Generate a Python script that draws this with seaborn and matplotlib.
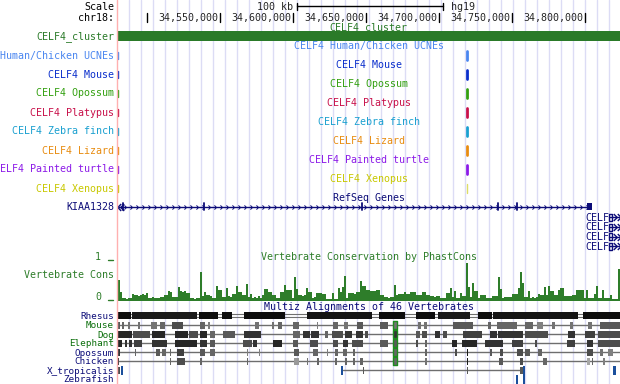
import numpy as np
import pandas as pd
import matplotlib
matplotlib.use('Agg')
import matplotlib.pyplot as plt
import matplotlib.transforms as mtransforms
from matplotlib.path import Path
import seaborn as sns

# ---------------- data (chr18, hg19, positions in kb) ----------------
view_kb = (34479.3, 34823.9)
ruler_ticks_kb = [34500, 34550, 34600, 34650, 34700, 34750, 34800]
scale_bar_kb = (34602.7, 34702.7)

track_names = ['CELF4 Human/Chicken UCNEs', 'CELF4 Mouse', 'CELF4 Opossum',
               'CELF4 Platypus', 'CELF4 Zebra finch', 'CELF4 Lizard',
               'CELF4 Painted turtle', 'CELF4 Xenopus']
track_colors = ['#4a86f0', '#0a2ecc', '#33a010', '#c8104a',
                '#1aa0d0', '#e88c10', '#8c1ae8', '#c8c800']
track_left_kb = 34480.0
track_hit_kb = (34718.7, 34720.1)

kiaa_span_kb = (34479.3, 34803.3)
kiaa_exons_kb = [34483.4, 34538.9, 34647.1, 34740.3, 34753.3]
kiaa_last_exon_kb = (34801.3, 34804.7)
celf4_start_kb = 34816.3
celf4_rows = 4

# phastCons scores, one per 1.37 kb bin starting at 34480.0 kb
cons_start_kb = 34480.0
cons_step_kb = 1.37
cons_scores = [
    0.51, 0.22, 0.07, 0.07, 0.05, 0.07, 0.07, 0.17, 0.15, 0.15,
    0.12, 0.15, 0.17, 0.15, 0.20, 0.07, 0.07, 0.10, 0.07, 0.07,
    0.07, 0.10, 0.10, 0.15, 0.15, 0.24, 0.22, 0.10, 0.10, 0.10,
    0.34, 0.24, 0.22, 0.24, 0.20, 0.20, 0.07, 0.07, 0.05, 0.07,
    0.07, 0.71, 0.12, 0.22, 0.15, 0.15, 0.12, 0.07, 0.07, 0.37,
    0.27, 0.27, 0.10, 0.10, 0.32, 0.12, 0.10, 0.17, 0.17, 0.37,
    0.22, 0.22, 0.15, 0.15, 0.41, 0.10, 0.17, 0.07, 0.10, 0.07,
    0.12, 0.07, 0.15, 0.29, 0.29, 0.22, 0.22, 0.15, 0.15, 0.07,
    0.07, 0.22, 0.22, 0.39, 0.27, 0.27, 0.27, 0.07, 0.59, 0.29,
    0.15, 0.15, 0.12, 0.15, 0.32, 0.22, 0.22, 0.07, 0.10, 0.20,
    0.20, 0.20, 0.17, 0.17, 0.05, 0.05, 0.05, 0.20, 0.05, 0.05,
    0.32, 0.22, 0.34, 0.61, 0.07, 0.20, 0.20, 0.20, 0.17, 0.22,
    0.22, 0.49, 0.37, 0.37, 0.27, 0.27, 0.24, 0.24, 0.24, 0.27,
    0.27, 0.15, 0.15, 0.10, 0.10, 0.07, 0.10, 0.10, 0.39, 0.15,
    0.17, 0.17, 0.17, 0.22, 0.17, 0.17, 0.22, 0.22, 0.22, 0.15,
    0.15, 0.15, 0.22, 0.22, 0.15, 0.15, 0.12, 0.12, 0.10, 0.12,
    0.12, 0.07, 0.07, 0.07, 0.20, 0.20, 0.32, 0.10, 0.24, 0.07,
    0.07, 0.20, 0.12, 0.12, 0.93, 0.34, 0.10, 0.44, 0.24, 0.24,
    0.07, 0.15, 0.15, 0.15, 0.07, 0.07, 0.07, 0.12, 0.12, 0.12,
    0.59, 0.29, 0.07, 0.10, 0.10, 0.10, 0.10, 0.17, 0.17, 0.17,
    0.32, 0.71, 0.44, 0.10, 0.10, 0.24, 0.07, 0.10, 0.07, 0.10,
    0.17, 0.15, 0.15, 0.34, 0.15, 0.37, 0.24, 0.24, 0.15, 0.15,
    0.27, 0.32, 0.32, 0.12, 0.12, 0.12, 0.12, 0.15, 0.15, 0.27,
    0.27, 0.27, 0.27, 0.07, 0.27, 0.07, 0.07, 0.07, 0.17, 0.37,
    0.07, 0.07, 0.27, 0.07, 0.07, 0.07, 0.15, 0.05, 0.05, 0.05,
    0.78,
]

# multiz blocks: (start kb, end kb, grey level)
rhesus_blocks = [(34479.8, 34488.9, 0.05), (34489.6, 34534.1, 0.1),
                 (34535.5, 34548.5, 0.05), (34551.2, 34558.1, 0.05),
                 (34566.3, 34594.4, 0.05), (34609.5, 34654.0, 0.08),
                 (34658.8, 34676.6, 0.05), (34684.1, 34697.1, 0.05),
                 (34699.2, 34721.1, 0.1), (34726.6, 34736.2, 0.05),
                 (34736.9, 34795.1, 0.08), (34798.5, 34823.9, 0.05)]
mouse_blocks = [(34480.0, 34481.4, 0.35), (34482.7, 34484.1, 0.4),
                (34486.9, 34488.2, 0.45), (34493.7, 34495.1, 0.45),
                (34502.6, 34506.7, 0.45), (34508.8, 34512.2, 0.4),
                (34517.0, 34524.5, 0.3), (34536.2, 34539.6, 0.4),
                (34541.6, 34543.0, 0.5), (34573.8, 34576.6, 0.45),
                (34585.5, 34586.9, 0.45), (34589.6, 34592.3, 0.4),
                (34599.9, 34604.0, 0.4), (34616.3, 34617.0, 0.5),
                (34627.3, 34630.7, 0.4), (34634.8, 34637.6, 0.45),
                (34643.7, 34647.8, 0.35), (34659.5, 34665.0, 0.35),
                (34668.4, 34671.1, 0.45), (34685.5, 34687.6, 0.45),
                (34689.6, 34691.7, 0.45), (34709.5, 34723.2, 0.35),
                (34733.5, 34735.5, 0.4), (34739.6, 34753.3, 0.4),
                (34758.8, 34764.3, 0.4), (34767.0, 34771.1, 0.5),
                (34777.3, 34779.3, 0.45), (34789.6, 34791.7, 0.45),
                (34802.0, 34804.7, 0.45), (34810.2, 34823.9, 0.35)]
dog_blocks = [(34480.0, 34489.6, 0.15), (34490.3, 34501.9, 0.3),
              (34503.3, 34512.2, 0.15), (34519.0, 34528.0, 0.15),
              (34528.6, 34534.8, 0.3), (34536.2, 34541.0, 0.15),
              (34543.0, 34546.4, 0.4), (34551.9, 34560.1, 0.35),
              (34566.3, 34578.0, 0.2), (34599.9, 34604.7, 0.4),
              (34606.7, 34611.5, 0.2), (34612.2, 34617.7, 0.2),
              (34621.8, 34623.9, 0.4), (34626.6, 34634.1, 0.3),
              (34635.5, 34640.3, 0.2), (34643.0, 34647.8, 0.2),
              (34649.2, 34651.3, 0.3), (34668.4, 34671.1, 0.2),
              (34684.1, 34686.9, 0.35), (34688.2, 34691.7, 0.3),
              (34697.1, 34700.6, 0.2), (34702.6, 34705.4, 0.3),
              (34716.3, 34729.3, 0.25), (34734.8, 34739.6, 0.2),
              (34740.3, 34757.4, 0.2), (34758.8, 34774.6, 0.3),
              (34788.3, 34793.0, 0.2), (34799.9, 34806.7, 0.25),
              (34808.8, 34823.9, 0.3)]
elephant_blocks = [(34480.0, 34482.7, 0.15), (34484.8, 34486.2, 0.2),
                   (34487.5, 34489.6, 0.2), (34491.0, 34496.4, 0.25),
                   (34503.3, 34513.6, 0.2), (34519.0, 34534.1, 0.15),
                   (34536.2, 34541.0, 0.2), (34543.0, 34546.4, 0.35),
                   (34565.6, 34571.8, 0.3), (34572.5, 34575.2, 0.2),
                   (34586.2, 34592.3, 0.15), (34599.9, 34603.3, 0.35),
                   (34611.5, 34617.0, 0.3), (34627.3, 34630.7, 0.3),
                   (34634.1, 34637.6, 0.2), (34640.3, 34647.8, 0.3),
                   (34659.5, 34665.0, 0.35), (34668.4, 34671.1, 0.35),
                   (34684.1, 34685.5, 0.3), (34690.3, 34691.7, 0.4),
                   (34708.8, 34712.2, 0.15), (34715.6, 34725.9, 0.15),
                   (34731.4, 34743.7, 0.2), (34749.9, 34757.4, 0.25),
                   (34765.6, 34767.0, 0.3), (34787.6, 34793.0, 0.25),
                   (34801.3, 34805.4, 0.2), (34808.8, 34823.9, 0.3)]
opossum_blocks = [(34480.0, 34481.4, 0.2), (34491.6, 34492.3, 0.4),
                  (34506.0, 34508.8, 0.35), (34510.1, 34512.9, 0.4),
                  (34515.6, 34516.3, 0.4), (34520.4, 34525.2, 0.25),
                  (34536.2, 34539.6, 0.35), (34543.0, 34546.4, 0.4),
                  (34568.4, 34569.1, 0.5), (34576.6, 34577.3, 0.5),
                  (34600.6, 34604.0, 0.35), (34613.6, 34617.0, 0.4),
                  (34623.2, 34623.9, 0.5), (34628.6, 34630.7, 0.4),
                  (34634.1, 34636.9, 0.4), (34641.0, 34642.3, 0.4),
                  (34668.4, 34671.1, 0.4), (34690.3, 34691.7, 0.4),
                  (34710.8, 34712.2, 0.3), (34719.1, 34719.8, 0.1),
                  (34734.8, 34736.2, 0.35), (34741.7, 34743.7, 0.3),
                  (34753.3, 34757.4, 0.3), (34758.8, 34762.2, 0.35),
                  (34767.7, 34770.4, 0.4), (34801.3, 34805.4, 0.3),
                  (34810.2, 34812.2, 0.45), (34815.7, 34819.1, 0.5)]
chicken_blocks = [(34480.0, 34480.7, 0.2), (34515.6, 34516.3, 0.4),
                  (34520.4, 34525.9, 0.3), (34536.2, 34537.5, 0.4),
                  (34568.4, 34569.1, 0.4), (34600.6, 34604.0, 0.6),
                  (34609.5, 34610.2, 0.45), (34616.3, 34617.7, 0.4),
                  (34628.6, 34630.0, 0.4), (34635.5, 34636.9, 0.4),
                  (34641.0, 34642.3, 0.4), (34645.8, 34647.8, 0.4),
                  (34668.4, 34671.1, 0.4), (34690.3, 34691.7, 0.45),
                  (34719.1, 34719.8, 0.1), (34741.0, 34743.7, 0.35),
                  (34755.4, 34757.4, 0.3), (34771.1, 34773.9, 0.4),
                  (34801.3, 34803.3, 0.65), (34804.7, 34805.4, 0.4),
                  (34812.2, 34813.6, 0.5)]
xtrop_blocks = [(34480.0, 34481.4, 0.3), (34647.5, 34648.2, 0.35),
                (34719.1, 34719.8, 0.35), (34755.4, 34757.4, 0.35)]
xtrop_blue_kb = [(34482.1, 34483.4), (34632.8, 34634.1),
                 (34757.4, 34758.8), (34819.1, 34821.1)]
xtrop_line_kb = (34634.1, 34756.7)
zebrafish_blue_kb = [(34752.6, 34754.0), (34757.4, 34758.8)]
multiz_green_kb = (34668.4, 34671.1)

# ---------------- style ----------------
sns.set_style('white')
plt.rcParams['font.family'] = ['DejaVu Sans Mono', 'DejaVu Sans']
plt.rcParams['patch.force_edgecolor'] = False
FS = 7.2
NAVY = '#0c0c78'
CL_GREEN = '#2a7a28'
CONS_GREEN = '#2e7d2a'
MZ_GREEN = '#0a6e0a'
BLUE = '#1b4f9c'
GUIDE = '#dcdcf5'

W, H = 620, 384
X0 = 117
fig = plt.figure(figsize=(W / 100, H / 100), dpi=100)
ax = fig.add_axes([X0 / W, 0, (W - X0) / W, 1])
ax.set_xlim(*view_kb)
ax.set_ylim(H, 0)
ax.axis('off')
kb_px = (view_kb[1] - view_kb[0]) / (W - X0)
mid_kb = sum(view_kb) / 2
lab = mtransforms.blended_transform_factory(fig.transFigure, ax.transData)
LX = 114 / W


def left_label(y, text, color, fs=FS):
    ax.text(LX, y + 3.5, text, transform=lab, ha='right', va='baseline',
            fontsize=fs, color=color, clip_on=False)


def center_label(y, text, color):
    ax.text(mid_kb, y + 3.5, text, ha='center', va='baseline',
            fontsize=FS, color=color)


def solid_bars(spans, y0, h, colors):
    ax.broken_barh(spans, (y0, h), facecolors=colors, edgecolors='none',
                   linewidth=0, zorder=3)


# guide lines and left border
for k in range(1, 42):
    ax.axvline(view_kb[0] + (0.3 + 12 * k) * kb_px, color=GUIDE, lw=1, zorder=0)
fig.add_artist(plt.Line2D([116.5 / W] * 2, [0, 1], color='#ffb0b0', lw=1,
                          transform=fig.transFigure))

# scale + ruler
left_label(6.7, 'Scale', 'black')
left_label(17.3, 'chr18:', 'black')
ax.plot(scale_bar_kb, [6, 6], color='black', lw=1)
for xb in scale_bar_kb:
    ax.plot([xb, xb], [2.5, 10], color='black', lw=1)
ax.text(scale_bar_kb[0] - 4 * kb_px, 10.2, '%d kb' % round(scale_bar_kb[1] - scale_bar_kb[0]),
        ha='right', va='baseline', fontsize=FS)
ax.text(scale_bar_kb[1] + 8 * kb_px, 10.2, 'hg19', ha='left', va='baseline', fontsize=FS)
for t in ruler_ticks_kb:
    ax.plot([t, t], [13, 21.5], color='black', lw=1)
    if t > ruler_ticks_kb[0]:
        ax.text(t - 2 * kb_px, 20.8, f'{int(t * 1000):,}', ha='right',
                va='baseline', fontsize=FS)

# CELF4 cluster
center_label(26.5, 'CELF4_cluster', CL_GREEN)
left_label(36, 'CELF4_cluster', CL_GREEN)
solid_bars([(view_kb[0] + kb_px, view_kb[1] - view_kb[0])], 31, 10, CL_GREEN)

# conserved element tracks
for i, (name, col) in enumerate(zip(track_names, track_colors)):
    yt = 45.5 + 19 * i
    yr = 55 + 19 * i
    center_label(yt, name, col)
    left_label(yr, name, col)
    ax.plot([track_left_kb, track_left_kb], [yr - 3.5, yr + 3.5], color=col, lw=1)
    w = 1 if name.endswith('Xenopus') else 2
    ax.plot([sum(track_hit_kb) / 2] * 2, [yr - 4.5, yr + 4.5], color=col, lw=w,
            alpha=0.6 if w == 1 else 1)

# RefSeq genes
chev = Path([(-0.5, 1), (0.5, 0), (-0.5, -1)], [Path.MOVETO, Path.LINETO, Path.LINETO])
chev_l = Path([(0.5, 1), (-0.5, 0), (0.5, -1)], [Path.MOVETO, Path.LINETO, Path.LINETO])
center_label(197.5, 'RefSeq Genes', NAVY)
yk = 206.7
left_label(yk, 'KIAA1328', NAVY)
ax.plot(kiaa_span_kb, [yk, yk], color=NAVY, lw=1)
cx = np.arange(kiaa_span_kb[0] + 8 * kb_px, kiaa_span_kb[1] - 2 * kb_px, 6 * kb_px)
ax.plot(cx, [yk] * len(cx), ls='', marker=chev, ms=3, mfc='none', mec=NAVY, mew=0.7)
ax.plot([view_kb[0] + 2 * kb_px, view_kb[0] + 4.5 * kb_px], [yk, yk], ls='',
        marker=chev_l, ms=5, mfc='none', mec=NAVY, mew=1)
for e in kiaa_exons_kb:
    ax.plot([e, e], [yk - 3.5, yk + 3.5], color=NAVY, lw=1.3)
solid_bars([(kiaa_last_exon_kb[0], kiaa_last_exon_kb[1] - kiaa_last_exon_kb[0])],
           yk - 3.5, 7, NAVY)
for j in range(celf4_rows):
    yc = 217.3 + 9.7 * j
    ax.text(celf4_start_kb - 24 * kb_px, yc + 3.5, 'CELF', ha='left', va='baseline',
            fontsize=FS, color=NAVY)
    ax.broken_barh([(celf4_start_kb, 3 * kb_px)], (yc - 3.5, 7), facecolors='none',
                   edgecolors=NAVY, linewidth=1)
    ax.plot([celf4_start_kb, view_kb[1]], [yc, yc], color=NAVY, lw=1)
    ax.plot([celf4_start_kb + 6 * kb_px, celf4_start_kb + 10 * kb_px], [yc, yc], ls='',
            marker=chev, ms=5, mfc='none', mec=NAVY, mew=1)

# conservation
center_label(257, 'Vertebrate Conservation by PhastCons', CONS_GREEN)
left_label(275, 'Vertebrate Cons', CONS_GREEN)
ax.text(98 / W, 260.5, '1', transform=lab, ha='center', va='baseline', fontsize=FS,
        color=CONS_GREEN)
ax.text(98 / W, 300.5, '0', transform=lab, ha='center', va='baseline', fontsize=FS,
        color=CONS_GREEN)
for yy in (260, 300):
    fig.add_artist(plt.Line2D([108 / W, 113 / W], [1 - yy / H] * 2, color=CONS_GREEN,
                              lw=1, transform=fig.transFigure))
ax_c = fig.add_axes([X0 / W, 1 - 302 / H, (W - X0) / W, 42 / H])
ax_c.patch.set_alpha(0)
cons_df = pd.DataFrame({
    'pos': cons_start_kb + cons_step_kb * (np.arange(len(cons_scores)) + 0.5),
    'score': cons_scores,
})
cons_end_kb = cons_start_kb + cons_step_kb * len(cons_scores)
sns.histplot(data=cons_df, x='pos', weights='score', bins=len(cons_scores),
             binrange=(cons_start_kb, cons_end_kb), ax=ax_c,
             color=CONS_GREEN, alpha=1, linewidth=0, edgecolor='none')
ax_c.set_xlim(*view_kb)
ax_c.set_ylim(-0.025, 1)
ax_c.axis('off')

# multiz
center_label(306.7, 'Multiz Alignments of 46 Vertebrates', NAVY)
species = ['Rhesus', 'Mouse', 'Dog', 'Elephant', 'Opossum', 'Chicken',
           'X_tropicalis', 'Zebrafish']
sp_colors = [NAVY, MZ_GREEN, MZ_GREEN, MZ_GREEN, NAVY, NAVY, NAVY, NAVY]
sp_blocks = [rhesus_blocks, mouse_blocks, dog_blocks, elephant_blocks,
             opossum_blocks, chicken_blocks, xtrop_blocks, []]
sp_y = [315.5, 325, 334, 343, 352, 361, 370, 379]
for name, col, blocks, y in zip(species, sp_colors, sp_blocks, sp_y):
    left_label(y, name, col, fs=6.7)
    if name == 'Rhesus':
        for d in (-1.5, 1.5):
            ax.plot(view_kb, [y + d] * 2, color='#707070', lw=0.8)
    elif name in ('Mouse', 'Dog', 'Elephant', 'Opossum', 'Chicken'):
        ax.plot([view_kb[0] + kb_px, view_kb[1]], [y, y], color='#6e6e6e', lw=1)
    if blocks:
        solid_bars([(s, e - s) for s, e, g in blocks], y - 3.5, 7,
                   [str(g) for s, e, g in blocks])
    if name in ('Mouse', 'Dog', 'Elephant', 'Opossum', 'Chicken'):
        ax.broken_barh([(multiz_green_kb[0], multiz_green_kb[1] - multiz_green_kb[0])],
                       (y - 4, 8), facecolors='none', edgecolors='#1e8c1e',
                       linewidth=1, zorder=4)
y = sp_y[6]
ax.plot(xtrop_line_kb, [y, y], color='#6e6e6e', lw=1)
solid_bars([(s, e - s) for s, e in xtrop_blue_kb], y - 4, 9, BLUE)
solid_bars([(s, e - s) for s, e in zebrafish_blue_kb], sp_y[7] - 4, 9, BLUE)

fig.savefig('out.png', dpi=100)
